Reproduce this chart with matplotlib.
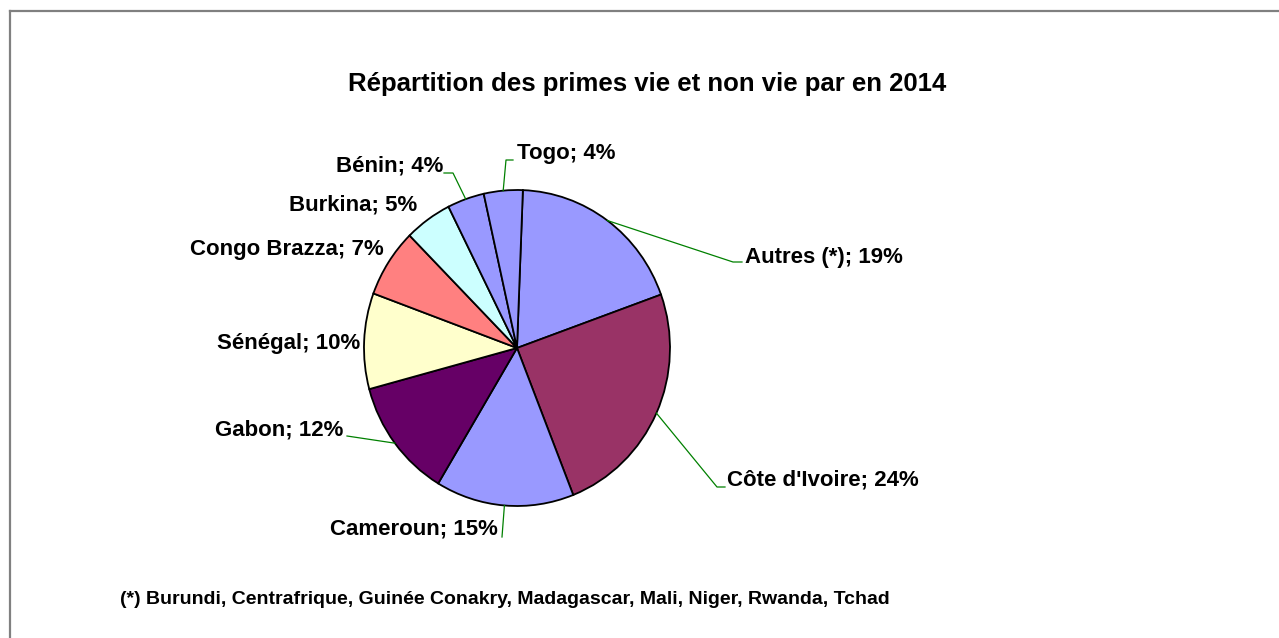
import numpy as np
import matplotlib.pyplot as plt
from matplotlib.lines import Line2D

# shares, labels as printed on the chart
countries = ['Autres (*)', "Côte d'Ivoire", 'Cameroun', 'Gabon', 'Sénégal',
             'Congo Brazza', 'Burkina', 'Bénin', 'Togo']
shares = [18.9, 24.5, 14.6, 12.2, 9.8, 7.0, 5.0, 3.9, 4.1]
shown_pct = [19, 24, 15, 12, 10, 7, 5, 4, 4]
colors = ['#9999FF', '#993366', '#9999FF', '#660066', '#FFFFCC',
          '#FF8080', '#CCFFFF', '#9999FF', '#9999FF']

title = 'Répartition des primes vie et non vie par en 2014'
note = '(*) Burundi, Centrafrique, Guinée Conakry, Madagascar, Mali, Niger, Rwanda, Tchad'

W, H = 1279, 638

def px(x, y):
    # top-left pixel -> figure fraction
    return x / W, 1 - y / H

# label layout: text anchor (px), alignment, leader elbow points (px)
layout = [
    ((745, 257), 'left', [(733, 262), (742, 262)]),
    ((727, 480), 'left', [(717, 487), (725, 487)]),
    ((498, 529), 'right', [(502, 537)]),
    ((343, 430), 'right', [(347, 436)]),
    ((360, 343), 'right', None),
    ((384, 249), 'right', None),
    ((417, 205), 'right', None),
    ((443, 166), 'right', [(453, 173), (444, 173)]),
    ((517, 154), 'left', [(506, 160), (513, 160)]),
]

plt.rcParams['font.family'] = ['Liberation Sans', 'DejaVu Sans']

fig = plt.figure(figsize=(W / 100, H / 100), dpi=100)

cx, cy, rx, ry = 517, 348, 153, 158
x0, y0 = px(cx - rx, cy + ry)
ax = fig.add_axes([x0, y0, 2 * rx / W, 2 * ry / H])
wedges, _ = ax.pie(shares, colors=colors, startangle=87.8, counterclock=False,
                   wedgeprops=dict(edgecolor='black', linewidth=1.3))
for w in wedges:
    w.set_clip_on(False)
ax.set_aspect('auto')
ax.set_xlim(-1, 1)
ax.set_ylim(-1, 1)
ax.axis('off')

inv = fig.transFigure.inverted()
for w, name, pct, (pos, ha, elbow) in zip(wedges, countries, shown_pct, layout):
    fx, fy = px(*pos)
    fig.text(fx, fy, f'{name}; {pct}%', ha=ha, va='center',
             fontsize=16, fontweight='bold')
    if elbow:
        mid = np.deg2rad((w.theta1 + w.theta2) / 2)
        start = inv.transform(ax.transData.transform((np.cos(mid), np.sin(mid))))
        pts = [tuple(start)] + [px(*p) for p in elbow]
        xs, ys = zip(*pts)
        fig.add_artist(Line2D(xs, ys, color='#008000', linewidth=0.9))

tx, ty = px(647, 84)
fig.text(tx, ty, title, ha='center', va='center', fontsize=18.5, fontweight='bold')

nx, ny = px(120, 600)
fig.text(nx, ny, note, ha='left', va='center', fontsize=14, fontweight='bold',
         family=['Liberation Sans Narrow', 'Liberation Sans'])

# chart area frame (only top and left edges fall inside the picture)
fig.add_artist(Line2D([10 / W, 1.0], [1 - 11 / H, 1 - 11 / H], color='#808080', linewidth=1.6))
fig.add_artist(Line2D([10 / W, 10 / W], [1 - 11 / H, 0.0], color='#808080', linewidth=1.6))

fig.savefig('out.png', dpi=100)
